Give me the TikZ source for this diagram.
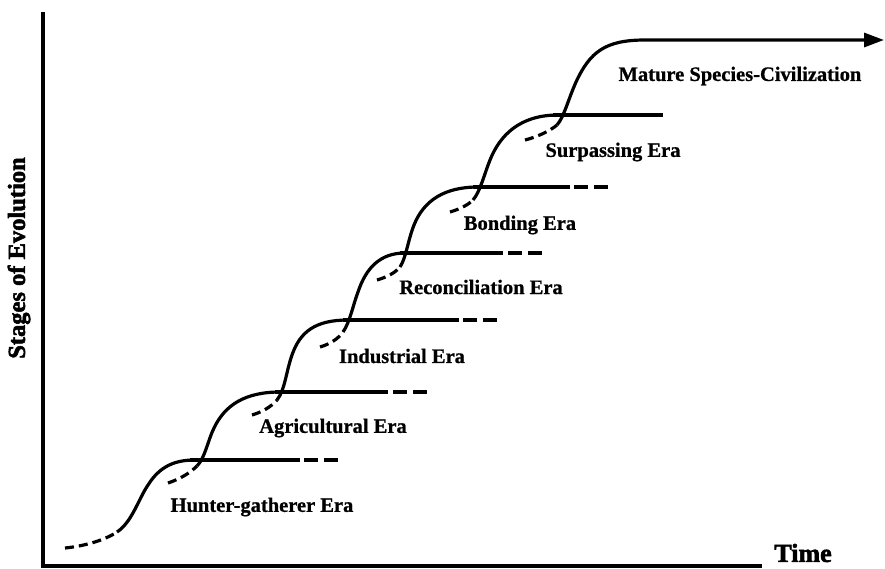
\documentclass[tikz,border=0pt]{standalone}
\usepackage{fontspec}
\setmainfont{Liberation Serif}
\newfontfamily\lblfont{Liberation Serif Bold}[FakeBold=0.8]
\newfontfamily\heavyfont{Liberation Serif Bold}[FakeBold=2.2]
\usetikzlibrary{arrows.meta}
\begin{document}
\begin{tikzpicture}[x=1pt,y=-1pt,
  curve/.style={line width=3.2pt},
  dcurve/.style={line width=3.2pt, dash pattern=on 9pt off 5pt},
  plat/.style={line width=3.2pt},
  dplat/.style={line width=3.2pt, dash pattern=on 14pt off 6pt},
  lbl/.style={font=\fontsize{20.5}{24}\lblfont, inner sep=0pt},
  axis/.style={line width=3.2pt}]
\useasboundingbox (0,0) rectangle (885,568);
% axes
\draw[axis] (43,12) -- (43,566) -- (762,566);
\node[font=\fontsize{24.5}{28}\heavyfont, rotate=90, inner sep=0pt] (ylab) at (19,258) {Stages of Evolution};
\node[font=\fontsize{26}{28}\heavyfont, inner sep=0pt] (xlab) at (803,553) {Time};
% curve 1
\draw[dcurve] (65,548) .. controls (85,546) and (105,540) .. (117,532);
\draw[curve] (117,532) .. controls (132,522) and (138,500) .. (148,485) .. controls (160,466) and (175,460) .. (195,460);
% plateau 1
\draw[plat] (190,460) -- (300,460);
\draw[dplat] (304,460) -- (340,460);
% curve 2
\draw[dcurve] (168,483) .. controls (180,479) and (190,473) .. (197,466);
\draw[curve] (197,466) .. controls (205,458) and (208,440) .. (214,428) .. controls (225,405) and (245,392) .. (280,392);
\draw[plat] (275,392) -- (388,392);
\draw[dplat] (393,392) -- (428,392);
% curve 3
\draw[dcurve] (252,415) .. controls (262,412) and (271,407) .. (277,400);
\draw[curve] (277,400) .. controls (285,390) and (286,372) .. (292,355) .. controls (300,332) and (315,320) .. (348,320);
\draw[plat] (343,320) -- (459,320);
\draw[dplat] (463,320) -- (499,320);
% curve 4
\draw[dcurve] (320,347) .. controls (330,344) and (338,339) .. (343,332);
\draw[curve] (343,332) .. controls (350,322) and (353,305) .. (358,292) .. controls (366,268) and (380,253) .. (405,253);
\draw[plat] (400,253) -- (503,253);
\draw[dplat] (508,253) -- (545,253);
% curve 5
\draw[dcurve] (377,280) .. controls (387,277) and (395,273) .. (400,267);
\draw[curve] (400,267) .. controls (406,258) and (408,240) .. (414,225) .. controls (424,200) and (445,187) .. (478,187);
\draw[plat] (473,187) -- (570,187);
\draw[dplat] (574,187) -- (611,187);
% curve 6
\draw[dcurve] (450,212) .. controls (460,209) and (468,205) .. (473,200);
\draw[curve] (473,200) .. controls (480,192) and (484,175) .. (490,160) .. controls (500,135) and (520,115) .. (558,115);
\draw[plat] (553,115) -- (663,115);
% curve 7
\draw[dcurve] (525,140) .. controls (537,137) and (550,131) .. (557,125);
\draw[curve, -{Triangle[length=20pt,width=14pt]}] (557,125) .. controls (564,117) and (568,100) .. (576,82) .. controls (590,52) and (605,40) .. (645,40) -- (884,40);
% labels
\node[lbl] (hunter) at (262,507) {Hunter-gatherer Era};
\node[lbl] (agri) at (333,428) {Agricultural Era};
\node[lbl] (indus) at (402,356) {Industrial Era};
\node[lbl] (recon) at (481,287) {Reconciliation Era};
\node[lbl] (bond) at (520,225) {Bonding Era};
\node[lbl] (surp) at (613,152) {Surpassing Era};
\node[lbl] (mature) at (740,76) {Mature Species-Civilization};
\end{tikzpicture}
\end{document}
